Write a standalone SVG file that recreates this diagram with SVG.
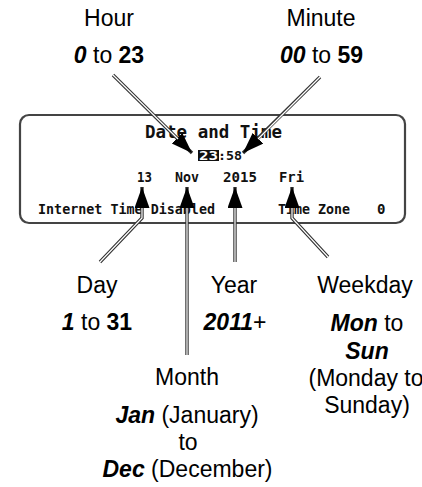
<svg xmlns="http://www.w3.org/2000/svg" width="422" height="487" viewBox="0 0 422 487">
<style>
.lbl{font-family:"Liberation Sans",Arial,sans-serif;font-size:23px;fill:#000;text-anchor:middle}
.bi{font-weight:bold;font-style:italic}
.b{font-weight:bold}
.scr{font-family:"DejaVu Sans Mono","Liberation Mono",monospace;font-weight:bold;fill:#111}
.outer{fill:none;stroke:#333;stroke-width:3.4}
.inner{fill:none;stroke:#fff;stroke-width:1.2}
</style>
<defs>
<marker id="ah" markerUnits="userSpaceOnUse" markerWidth="22" markerHeight="16" refX="21" refY="7.5" orient="auto">
<path d="M0,0 L21,7.5 L0,15 Z" fill="#000"/>
</marker>
</defs>
<rect width="422" height="487" fill="#fff"/>

<g id="screen">
<rect x="20" y="115" width="385" height="108" rx="9" fill="#fff" stroke="#444" stroke-width="2.2"/>
<text class="scr" x="145" y="138" font-size="17" textLength="137" lengthAdjust="spacingAndGlyphs">Date and Time</text>
<rect x="198" y="150" width="21" height="11" fill="#111"/>
<text class="scr" x="199" y="159.5" font-size="13" style="fill:#fff" textLength="19" lengthAdjust="spacingAndGlyphs">23</text>
<text class="scr" x="218" y="159.5" font-size="13" textLength="24" lengthAdjust="spacingAndGlyphs">:58</text>
<text class="scr" x="137" y="182" font-size="14.5" textLength="15" lengthAdjust="spacingAndGlyphs">13</text>
<text class="scr" x="175" y="182" font-size="14.5" textLength="24" lengthAdjust="spacingAndGlyphs">Nov</text>
<text class="scr" x="223" y="182" font-size="14.5" textLength="34" lengthAdjust="spacingAndGlyphs">2015</text>
<text class="scr" x="279" y="182" font-size="14.5" textLength="25" lengthAdjust="spacingAndGlyphs">Fri</text>
<text class="scr" x="38" y="214" font-size="14" textLength="177" lengthAdjust="spacingAndGlyphs">Internet Time Disabled</text>
<text class="scr" x="278" y="214" font-size="14" textLength="72" lengthAdjust="spacingAndGlyphs">Time Zone</text>
<text class="scr" x="377" y="214" font-size="14">0</text>
</g>

<g id="connectors">
<path class="outer" d="M113,75 L192,153" marker-end="url(#ah)"/>
<path class="inner" d="M113,75 L178,139"/>
<path class="outer" d="M320,77 L243,153" marker-end="url(#ah)"/>
<path class="inner" d="M320,77 L258,139"/>
<path class="outer" d="M100,262 L142,218 L142,187" marker-end="url(#ah)"/>
<path class="inner" d="M100,262 L142,218 L142,208"/>
<path class="outer" d="M187,355 L187,187" marker-end="url(#ah)"/>
<path class="inner" d="M187,355 L187,208"/>
<path class="outer" d="M235,262 L235,187" marker-end="url(#ah)"/>
<path class="inner" d="M235,262 L235,208"/>
<path class="outer" d="M328,257 L292,218 L292,187" marker-end="url(#ah)"/>
<path class="inner" d="M328,257 L292,218 L292,208"/>
</g>

<g id="hour">
<text class="lbl" x="109" y="26">Hour</text>
<text class="lbl" x="109" y="63"><tspan class="bi">0</tspan> to <tspan class="b">23</tspan></text>
</g>
<g id="minute">
<text class="lbl" x="321" y="26">Minute</text>
<text class="lbl" x="321.5" y="63"><tspan class="bi">00</tspan> to <tspan class="b">59</tspan></text>
</g>
<g id="day">
<text class="lbl" x="97" y="293">Day</text>
<text class="lbl" x="97" y="330"><tspan class="bi">1</tspan> to <tspan class="b">31</tspan></text>
</g>
<g id="year">
<text class="lbl" x="234" y="293">Year</text>
<text class="lbl" x="235" y="330"><tspan class="bi">2011</tspan>+</text>
</g>
<g id="weekday">
<text class="lbl" x="365" y="293">Weekday</text>
<text class="lbl" x="367" y="331"><tspan class="bi">Mon</tspan> to</text>
<text class="lbl bi" x="367" y="359">Sun</text>
<text class="lbl" x="366" y="386">(Monday to</text>
<text class="lbl" x="367" y="413">Sunday)</text>
</g>
<g id="month">
<text class="lbl" x="187" y="385">Month</text>
<text class="lbl" x="187" y="423"><tspan class="bi">Jan</tspan> (January)</text>
<text class="lbl" x="188" y="450">to</text>
<text class="lbl" x="187.5" y="477"><tspan class="bi">Dec</tspan> (December)</text>
</g>
</svg>
